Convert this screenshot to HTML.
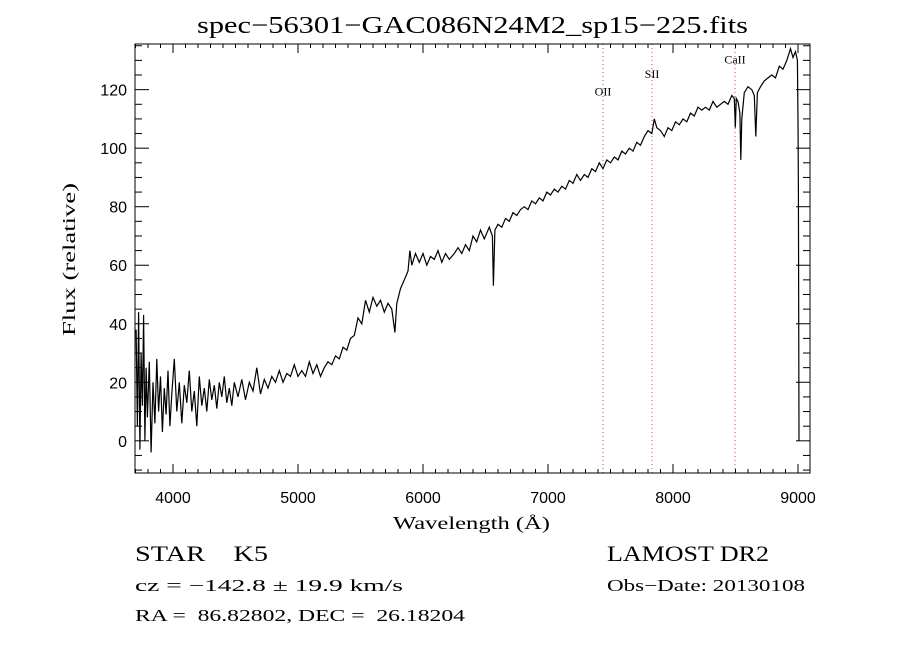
<!DOCTYPE html>
<html><head><meta charset="utf-8">
<style>
html,body{margin:0;padding:0;background:#fff;}
svg{display:block;}
text{font-family:"Liberation Serif",serif;fill:#000;}
.tick{font-family:"Liberation Sans",sans-serif;font-size:16px;}
</style></head>
<body>
<svg id="chart" width="900" height="650" viewBox="0 0 900 650" xmlns="http://www.w3.org/2000/svg">
<rect x="0" y="0" width="900" height="650" fill="#fff"/>
<text x="197" y="33" font-size="24" textLength="551" lengthAdjust="spacingAndGlyphs">spec−56301−GAC086N24M2_sp15−225.fits</text>
<text x="393" y="529" font-size="18" textLength="157" lengthAdjust="spacingAndGlyphs">Wavelength (Å)</text>
<text x="0" y="0" font-size="18" textLength="153" lengthAdjust="spacingAndGlyphs" transform="translate(75,336) rotate(-90)">Flux (relative)</text>
<text x="135" y="561" font-size="22" textLength="133" lengthAdjust="spacingAndGlyphs">STAR&#160;&#160;&#160;&#160;K5</text>
<text x="607" y="561" font-size="22" textLength="162" lengthAdjust="spacingAndGlyphs">LAMOST DR2</text>
<text x="135" y="591" font-size="17" textLength="268" lengthAdjust="spacingAndGlyphs">cz = −142.8 ± 19.9 km/s</text>
<text x="607" y="591" font-size="17" textLength="198" lengthAdjust="spacingAndGlyphs">Obs−Date: 20130108</text>
<text x="135" y="621" font-size="17" textLength="330" lengthAdjust="spacingAndGlyphs">RA =&#160;&#160;86.82802, DEC =&#160;&#160;26.18204</text>
<g id="plot"></g>
</svg>
<script>
const wavelengths = [3705,3715,3725,3735,3745,3755,3765,3775,3785,3795,3810,3825,3840,3855,3870,3885,3900,3915,3930,3945,3960,3975,3990,
4010,4030,4050,4070,4090,4110,4130,4150,4170,4190,4210,4230,4250,4270,4290,4310,4330,4350,4370,4390,4410,4430,4450,4470,4490,
4520,4550,4580,4610,4640,4670,4700,4730,4760,4790,4820,4850,4880,4910,4940,4970,5000,5030,5060,5090,5120,5150,5180,5210,5240,
5270,5300,5330,5360,5390,5420,5450,5480,5510,5540,5570,5600,5630,5660,5690,5720,5750,5775,5790,5820,5850,5880,5895,5910,5940,5970,6000,6030,6060,6090,6120,6150,6180,6210,6250,6280,6310,6340,6370,6400,6430,6460,6490,6530,6555,6563,6575,6600,6630,
6660,6690,6720,6750,6780,6810,6840,6870,6900,6930,6960,6990,7020,7050,7080,7110,7140,7170,7200,7230,7260,7290,7320,7350,7380,7410,7440,7470,7500,7530,7560,7590,7620,7650,7680,7710,7740,7770,7800,7830,7850,7870,7900,7930,7960,7990,8020,8050,8080,8110,8140,8170,8200,8230,8260,8290,8320,8350,8380,8410,8440,8470,8490,8498,8506,8520,8535,8542,8550,8570,8600,8630,8650,8662,8675,8700,8730,8760,8790,8820,8850,8880,8910,8940,8960,8980,8995,9000,9003,9008];
const fluxes = [38,5,44,-3,30,12,43,0,25,8,27,-4,20,6,28,10,22,3,18,9,24,5,16,
28,10,20,6,19,13,24,10,17,5,22,12,18,10,21,14,19,11,20,15,22,13,18,12,20,
15,21,14,20,17,25,16,21,18,22,20,24,20,23,22,26,22,24,22,27,23,26,22,25,27,
26,29,28,32,31,35,36,42,40,48,44,49,46,48,44,47,45,37,47,52,55,58,65,60,64,61,64,60,63,62,65,61,64,62,64,66,64,67,65,70,68,72,69,73,70,53,72,74,73,
76,75,78,77,79,80,79,82,81,83,82,85,84,86,85,87,86,89,88,91,89,91,90,93,92,95,93,96,95,97,96,99,98,100,99,102,101,104,106,105,110,107,106,104,107,106,109,108,110,109,112,111,114,113,114,113,116,114,115,116,115,118,117,107,117,116,112,96,110,119,121,120,118,104,119,121,123,124,125,124,128,127,130,134,131,133,130,110,86,0];
const xTicks = [4000,5000,6000,7000,8000,9000];
const yTicks = [0,20,40,60,80,100,120];
const lineNames = ["OII","SII","CaII"];
const lineWaves = [7440,7832,8496];
const lineLabelFlux = [118,124,129];

const NS="http://www.w3.org/2000/svg";
const L=135,R=810,T=44,B=473;
const x0=3696,x1=9096,y0=-11,y1=135.6;
function xs(w){return L+(w-x0)/(x1-x0)*(R-L);}
function ys(f){return B-(f-y0)/(y1-y0)*(B-T);}
const g=document.getElementById('plot');
function mk(tag,attrs){const e=document.createElementNS(NS,tag);for(const k in attrs)e.setAttribute(k,attrs[k]);g.appendChild(e);return e;}

for(let i=0;i<lineWaves.length;i++){
  const lx=xs(lineWaves[i]);
  const ln=mk('line',{x1:lx,x2:lx,y1:T,y2:B,stroke:'#9a5a5a','stroke-width':1,'stroke-dasharray':'1,3'});
  
  
  const tx=mk('text',{x:lx,y:ys(lineLabelFlux[i]),'font-size':12,'text-anchor':'middle'});
  tx.textContent=lineNames[i];
  
  
}

let d='';
for(let i=0;i<wavelengths.length;i++){d+=(i?'L':'M')+xs(wavelengths[i]).toFixed(1)+','+ys(fluxes[i]).toFixed(1);}
const sp=mk('path',{d:d,fill:'none',stroke:'#000','stroke-width':1.2});



const fr=mk('rect',{x:L,y:T,width:R-L,height:B-T,fill:'none',stroke:'#000','stroke-width':1});



for(let w=3700;w<=9096;w+=100){
  const major=(w%1000===0);const len=major?9:4;const px=xs(w);
  const t1=mk('line',{x1:px,x2:px,y1:B,y2:B-len,stroke:'#000'});
  
  
  const t2=mk('line',{x1:px,x2:px,y1:T,y2:T+len,stroke:'#000'});
  
  
}
xTicks.forEach(w=>{
  const t=mk('text',{x:xs(w),y:B+30,'text-anchor':'middle',class:'tick'});
  t.textContent=w;
  
  
});
for(let f=-10;f<=135;f+=5){
  const major=(f%20===0);const len=major?14:7;const py=ys(f);
  const t1=mk('line',{x1:L,x2:L+len,y1:py,y2:py,stroke:'#000'});
  
  
  const t2=mk('line',{x1:R,x2:R-len,y1:py,y2:py,stroke:'#000'});
  
  
}
yTicks.forEach(f=>{
  const t=mk('text',{x:L-8,y:ys(f)+6,'text-anchor':'end',class:'tick'});
  t.textContent=f;
  
  
});
</script>
</body></html>
